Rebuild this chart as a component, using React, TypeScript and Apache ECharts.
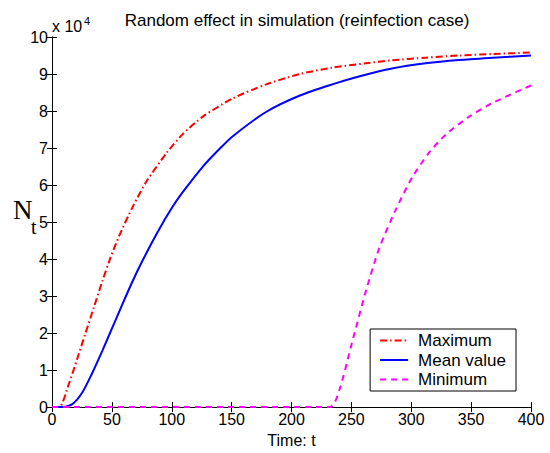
import React, { useEffect, useRef } from "react";
import * as echarts from "echarts";

const titleText = "Random effect in simulation (reinfection case)";
const xName = "Time: t";
const seriesNames = ["Maximum", "Mean value", "Minimum"];
const xTicks = [0, 50, 100, 150, 200, 250, 300, 350, 400];
const yTicks = [0, 1, 2, 3, 4, 5, 6, 7, 8, 9, 10]; // in units of 10^4

const maxT = [0, 6, 14, 21, 28, 35, 42, 49, 56, 68, 79, 96, 109, 126, 151, 179, 207, 234, 262, 284, 312, 340, 368, 400];
const maxN = [0, 0, 0.62, 1.3, 2.0, 2.7, 3.4, 4.05, 4.62, 5.45, 6.1, 6.88, 7.37, 7.85, 8.34, 8.72, 9.0, 9.17, 9.29, 9.37, 9.44, 9.5, 9.54, 9.58];

const meanT = [0, 8, 17, 25, 33, 42, 50, 58, 67, 75, 88, 100, 109, 126, 140, 151, 179, 207, 234, 257, 284, 312, 340, 368, 400];
const meanN = [0, 0, 0.08, 0.38, 0.88, 1.52, 2.12, 2.72, 3.38, 3.92, 4.72, 5.38, 5.8, 6.5, 6.98, 7.32, 7.98, 8.42, 8.72, 8.94, 9.15, 9.29, 9.38, 9.44, 9.5];

const minT = [0, 232, 240, 251, 262, 273, 287, 301, 315, 329, 348, 368, 400];
const minN = [0, 0, 0.47, 1.8, 3.12, 4.27, 5.33, 6.22, 6.88, 7.37, 7.84, 8.22, 8.69];

const zip = (a: number[], b: number[]) => a.map((v, i) => [v, b[i]]);

const FONT = "'Liberation Sans', Arial, Helvetica, sans-serif";
const SERIF = "'Liberation Serif', 'Times New Roman', serif";

export default function App() {
  const ref = useRef<HTMLDivElement>(null);
  useEffect(() => {
    if (!ref.current) return;
    const chart = echarts.init(ref.current, undefined, { renderer: "svg" });
    const axisCommon = {
      axisLine: { show: true, lineStyle: { color: "#000", width: 1 } },
      axisTick: { show: true, inside: true, length: 5, lineStyle: { color: "#000" } },
      splitLine: { show: false },
    };
    const lineSeries = (i: number, t: number[], n: number[], color: string, type: any, z: number) => ({
      name: seriesNames[i],
      type: "line",
      data: zip(t, n),
      showSymbol: false,
      symbol: "none",
      smooth: 0.25,
      clip: true,
      lineStyle: { color, width: 2, type },
      itemStyle: { color },
      z,
    });
    chart.setOption({
      animation: false,
      backgroundColor: "#fff",
      textStyle: { fontFamily: FONT },
      title: {
        text: titleText,
        left: 292,
        top: 7,
        textAlign: "center",
        textStyle: { fontFamily: FONT, fontSize: 17, fontWeight: "normal", color: "#000" },
      },
      grid: { left: 52, right: 19, top: 37, bottom: 38, containLabel: false },
      legend: {
        orient: "vertical",
        right: 34,
        top: 329,
        data: seriesNames,
        itemWidth: 28,
        itemHeight: 10,
        itemGap: 2.5,
        padding: [3, 10, 3, 9],
        borderColor: "#000",
        borderWidth: 1,
        borderRadius: 0,
        backgroundColor: "#fff",
        itemStyle: { opacity: 0, borderWidth: 0 },
        textStyle: { fontFamily: FONT, fontSize: 17, color: "#000", padding: [0, 0, 0, 5] },
      },
      xAxis: [
        {
          type: "value",
          min: 0,
          max: 400,
          interval: 50,
          position: "bottom",
          ...axisCommon,
          axisLabel: { fontSize: 16, color: "#000", margin: 4, fontFamily: FONT,
            formatter: (v: number) => (xTicks.includes(v) ? String(v) : "") },
          name: xName,
          nameLocation: "middle",
          nameGap: 22,
          nameTextStyle: { fontSize: 16, color: "#000", fontFamily: FONT },
        },
        {
          type: "value",
          min: 0,
          max: 400,
          interval: 50,
          position: "top",
          ...axisCommon,
          axisLabel: { show: false },
        },
      ],
      yAxis: [
        {
          type: "value",
          min: 0,
          max: 10,
          interval: 1,
          position: "left",
          ...axisCommon,
          axisLabel: { fontSize: 16, color: "#000", margin: 4, fontFamily: FONT,
            formatter: (v: number) => (yTicks.includes(v) ? String(v) : "") },
        },
        {
          type: "value",
          min: 0,
          max: 10,
          interval: 1,
          position: "right",
          ...axisCommon,
          axisLabel: { show: false },
        },
      ],
      graphic: [
        { type: "text", left: 52, top: 18, style: { text: "x 10", fontSize: 16, fontFamily: FONT, fill: "#000" } },
        { type: "text", left: 84, top: 15, style: { text: "4", fontSize: 11, fontFamily: FONT, fill: "#000" } },
        { type: "text", left: 13, top: 196, style: { text: "N", fontSize: 27, fontFamily: SERIF, fill: "#000" } },
        { type: "text", left: 31, top: 217, style: { text: "t", fontSize: 20, fontFamily: SERIF, fill: "#000" } },
      ],
      series: [
        lineSeries(0, maxT, maxN, "#ff0000", [7, 3, 1.5, 3], 3),
        lineSeries(1, meanT, meanN, "#0000ff", "solid", 4),
        lineSeries(2, minT, minN, "#ff00ff", [6, 5], 5),
      ],
    });
    return () => chart.dispose();
  }, []);
  return (
    <div
      ref={ref}
      style={{ position: "fixed", left: 0, top: 0, width: 550, height: 453, background: "#fff" }}
    />
  );
}
